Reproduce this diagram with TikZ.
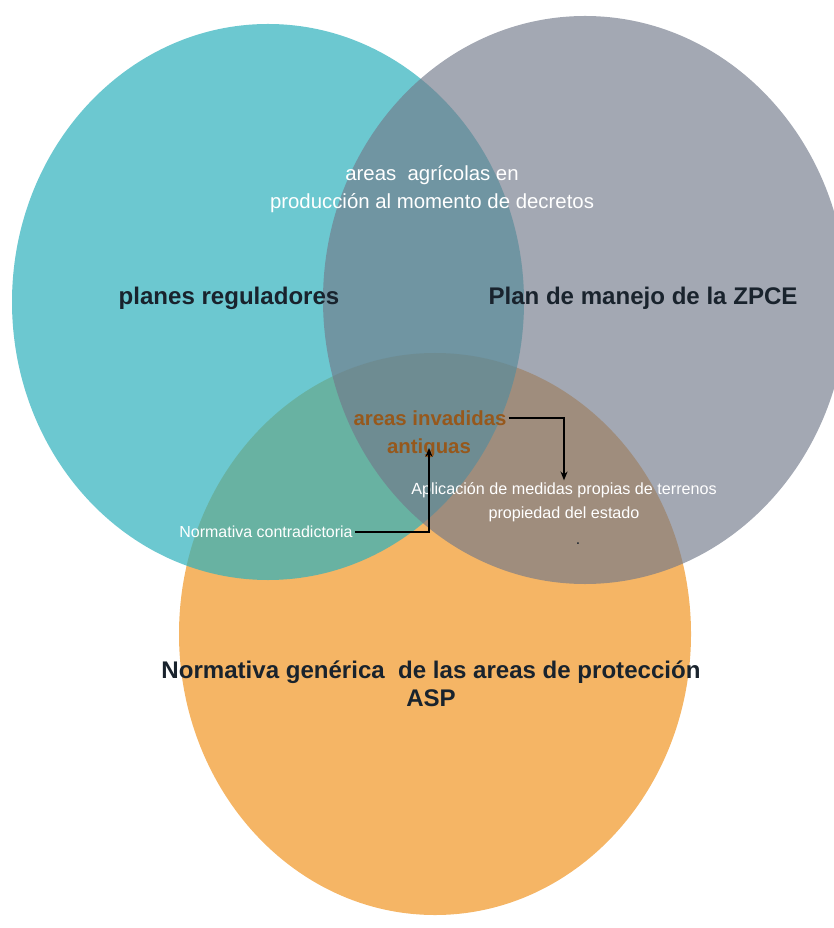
\documentclass[tikz,border=0pt]{standalone}
\usepackage{fontspec}
\setmainfont{Liberation Sans}
\usetikzlibrary{arrows.meta}
\definecolor{cyanset}{RGB}{45,177,188}
\definecolor{grayset}{RGB}{114,121,138}
\definecolor{orangeset}{RGB}{245,181,101}
\definecolor{labeldark}{RGB}{25,35,45}
\definecolor{invbrown}{RGB}{150,88,28}
\tikzset{
  setlabel/.style={font=\fontsize{13.7}{15.9}\selectfont\bfseries, text=labeldark, inner sep=1pt, align=center},
  innertext/.style={text=white, inner sep=1pt, align=center},
  invtext/.style={font=\fontsize{11.6}{14}\selectfont\bfseries, text=invbrown, inner sep=1pt},
  link/.style={line width=0.7pt, -{Stealth[length=5pt, width=4pt]}},
}

\begin{document}
\begin{tikzpicture}[x=0.02cm, y=-0.02cm]
  \useasboundingbox (0,0) rectangle (833,928);
  % the three sets
  \fill[orangeset] (435,634) ellipse [x radius=256, y radius=281];
  \fill[cyanset, fill opacity=0.7] (268,302) ellipse [x radius=256, y radius=278];
  \fill[grayset, fill opacity=0.65] (585,300) ellipse [x radius=262, y radius=284];
  % set names
  \node[setlabel] (planes) at (229,298) {planes reguladores};
  \node[setlabel] (plan) at (643,298) {Plan de manejo de la ZPCE};
  \node[setlabel] (norma) at (431,684) {Normativa genérica~ de las areas de protección\\ASP};
  % overlaps
  \node[innertext, font=\fontsize{11.6}{15.9}\selectfont] (agri) at (432,189)
    {areas~ agrícolas en\\producción al momento de decretos};
  \node[invtext] (inv) at (430,418) {areas invadidas};
  \node[invtext] (ant) at (429,448) {antiguas};
  \node[innertext, font=\fontsize{9.2}{13.6}\selectfont] (apl) at (564,502)
    {Aplicación de medidas propias de terrenos\\propiedad del estado};
  \node[innertext, font=\fontsize{9.1}{11}\selectfont] (contra) at (266,532) {Normativa contradictoria};
  \node[text=labeldark, font=\fontsize{9}{11}\selectfont, inner sep=1pt] (punto) at (578,544) {.};
  % links
  \draw[link] (inv.east) -| (apl.north);
  \draw[link] (contra.east) -| (ant.center);
\end{tikzpicture}
\end{document}
